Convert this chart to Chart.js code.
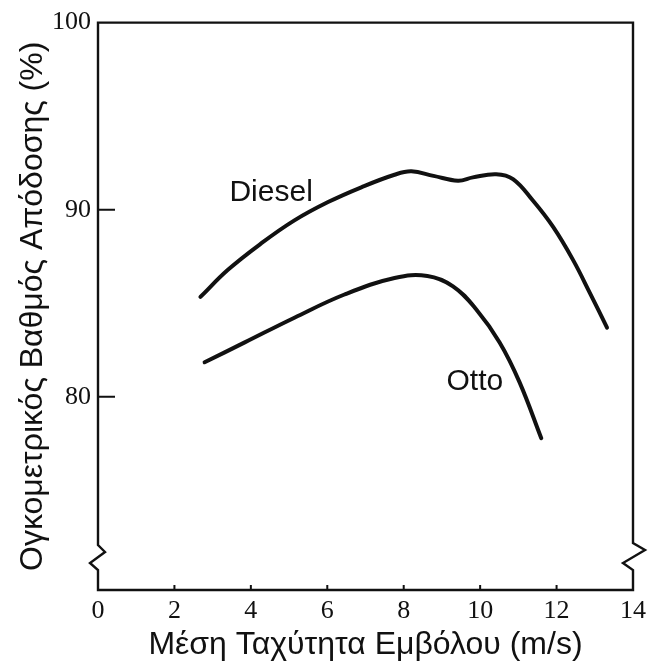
<!DOCTYPE html>
<html>
<head>
<meta charset="utf-8">
<script src="https://cdn.jsdelivr.net/npm/chart.js@4.4.1/dist/chart.umd.min.js"></script>
<style>
  html, body { margin: 0; padding: 0; background: #ffffff; }
  #wrap { width: 652px; height: 663px; }
</style>
</head>
<body>
<div id="wrap"><canvas id="c" width="652" height="663"></canvas></div>
<script>
// ---- data ----
const dieselX = [2.68, 3.40, 4.27, 5.14, 6.02, 6.89, 7.76, 8.20, 8.78, 9.42, 9.81, 10.42, 10.86, 11.38, 11.91, 12.43, 12.87, 13.32];
const dieselY = [85.34, 86.79, 88.20, 89.43, 90.41, 91.20, 91.87, 92.05, 91.81, 91.55, 91.73, 91.90, 91.64, 90.49, 89.08, 87.32, 85.56, 83.70];
const ottoX = [2.79, 3.84, 5.14, 6.45, 7.76, 8.62, 9.29, 9.90, 10.51, 11.03, 11.60];
const ottoY = [81.85, 82.91, 84.23, 85.47, 86.35, 86.46, 85.91, 84.67, 82.91, 80.79, 77.79];
const xTicks = [0, 2, 4, 6, 8, 10, 12, 14];
const yTicks = [80, 90, 100];
const seriesNames = ['Diesel', 'Otto'];
const labelPos = { Diesel: [3.44, 90.46], Otto: [9.12, 80.35] };
const xTitle = 'Μέση Ταχύτητα Εμβόλου (m/s)';
const yTitle = 'Ογκομετρικός Βαθμός Απόδοσης (%)';

const INK = '#111111';
const SANS = "'Liberation Sans', Arial, Helvetica, sans-serif";
const SERIF = "'Liberation Serif', 'Times New Roman', serif";

function pts(xs, ys) { return xs.map((x, i) => ({ x: x, y: ys[i] })); }

const framePlugin = {
  id: 'frame',
  afterDraw(chart) {
    const { ctx, chartArea: a, scales } = chart;
    const xs = scales.x, ys = scales.y;
    ctx.save();
    ctx.strokeStyle = INK;
    ctx.lineWidth = 2.4;
    ctx.lineJoin = 'miter';
    ctx.lineCap = 'square';
    const b = a.bottom;
    ctx.beginPath();
    ctx.moveTo(a.left, a.top);
    ctx.lineTo(a.left, b - 45);
    ctx.lineTo(a.left + 7, b - 38);
    ctx.lineTo(a.left - 8, b - 27);
    ctx.lineTo(a.left, b - 20);
    ctx.lineTo(a.left, b);
    ctx.lineTo(a.right, b);
    ctx.lineTo(a.right, b - 20);
    ctx.lineTo(a.right - 10, b - 27);
    ctx.lineTo(a.right + 12, b - 40);
    ctx.lineTo(a.right, b - 47);
    ctx.lineTo(a.right, a.top);
    ctx.closePath();
    ctx.stroke();
    ctx.lineWidth = 2;
    ctx.lineCap = 'butt';
    ctx.beginPath();
    yTicks.forEach(v => {
      if (v >= ys.max) return;
      const py = ys.getPixelForValue(v);
      ctx.moveTo(a.left, py);
      ctx.lineTo(a.left + 17, py);
    });
    xTicks.forEach(v => {
      if (v <= xs.min || v >= xs.max) return;
      const px = xs.getPixelForValue(v);
      ctx.moveTo(px, b);
      ctx.lineTo(px, b - 5);
    });
    ctx.stroke();
    ctx.fillStyle = INK;
    ctx.font = '30px ' + SANS;
    ctx.textAlign = 'left';
    ctx.textBaseline = 'alphabetic';
    seriesNames.forEach(n => {
      const p = labelPos[n];
      ctx.fillText(n, xs.getPixelForValue(p[0]), ys.getPixelForValue(p[1]));
    });
    ctx.restore();
  }
};

new Chart(document.getElementById('c'), {
  type: 'line',
  data: {
    datasets: [
      { label: seriesNames[0], data: pts(dieselX, dieselY) },
      { label: seriesNames[1], data: pts(ottoX, ottoY) }
    ]
  },
  options: {
    responsive: false,
    animation: false,
    devicePixelRatio: 1,
    layout: { padding: { top: 17, right: 19, bottom: 0, left: 0 } },
    elements: {
      line: { borderColor: INK, borderWidth: 4, tension: 0.4, borderCapStyle: 'round', borderJoinStyle: 'round', fill: false },
      point: { radius: 0, hoverRadius: 0 }
    },
    plugins: { legend: { display: false }, tooltip: { enabled: false } },
    scales: {
      x: {
        type: 'linear',
        min: 0, max: 14,
        afterFit(s) { s.height = 73; },
        afterBuildTicks(s) { s.ticks = xTicks.map(v => ({ value: v })); },
        grid: { display: false, drawTicks: false },
        border: { display: false },
        ticks: { color: INK, padding: 6, font: { family: SERIF, size: 26 }, maxRotation: 0, autoSkip: false },
        title: { display: true, text: xTitle, color: INK, padding: 0, font: { family: SANS, size: 32, lineHeight: 1.1 } }
      },
      y: {
        type: 'linear',
        min: 69.68, max: 100,
        afterFit(s) { s.width = 98; },
        afterBuildTicks(s) { s.ticks = yTicks.map(v => ({ value: v })); },
        grid: { display: false, drawTicks: false },
        border: { display: false },
        ticks: { color: INK, padding: 7, font: { family: SERIF, size: 26 } },
        title: { display: true, text: yTitle, color: INK, padding: { top: 16, bottom: 0 }, font: { family: SANS, size: 32, lineHeight: 1.1 } }
      }
    }
  },
  plugins: [framePlugin]
});
</script>
</body>
</html>
